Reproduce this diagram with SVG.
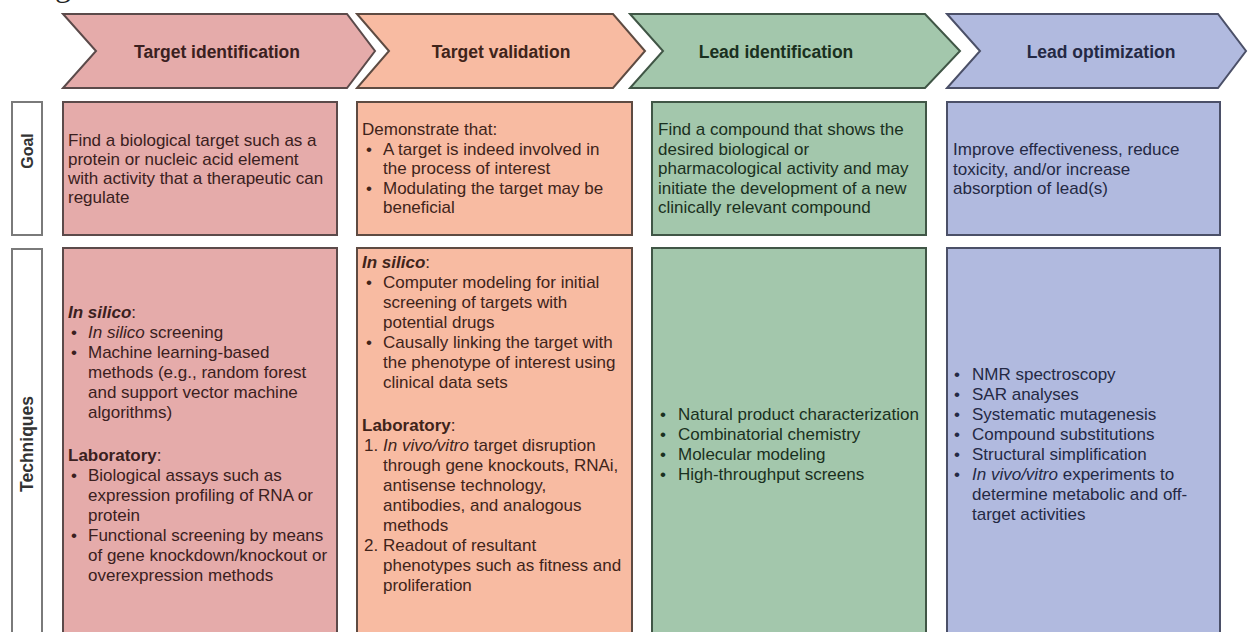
<svg xmlns="http://www.w3.org/2000/svg" width="1248" height="632" viewBox="0 0 1248 632">
<style>
.t{font-family:"Liberation Sans",Arial,sans-serif;font-size:17px}
.h{font-family:"Liberation Sans",Arial,sans-serif;font-size:17.5px;font-weight:bold;text-anchor:middle}
.lbl{font-family:"Liberation Sans",Arial,sans-serif;font-weight:bold;text-anchor:middle;fill:#333}
.bi{font-weight:bold;font-style:italic}
.b{font-weight:bold}
.i{font-style:italic}
.c1{fill:#e5abaa;stroke:#5b4a4a;stroke-width:2}
.c2{fill:#f8bba2;stroke:#5e4b42;stroke-width:2}
.c3{fill:#a3c7ac;stroke:#405646;stroke-width:2}
.c4{fill:#b1badf;stroke:#4b5068;stroke-width:2}
.x1{fill:#3a2020}.x2{fill:#40241a}.x3{fill:#1a3020}.x4{fill:#242944}
.lb{fill:#fff;stroke:#7a7a7a;stroke-width:2}
</style>
<text x="55" y="-4" font-family="'Liberation Serif',serif" font-size="32" fill="#222">g</text>

<g id="hdr1">
<polygon class="c1" points="63,14 347,14 375,51 347,88 63,88 96,51"/>
<text class="h x1" x="217" y="58">Target identification</text>
</g>
<g id="hdr2">
<polygon class="c2" points="357,14 613,14 645,51 613,88 357,88 389,51"/>
<text class="h x2" x="501" y="58">Target validation</text>
</g>
<g id="hdr3">
<polygon class="c3" points="630,14 925,14 960,51 925,88 630,88 663,51"/>
<text class="h x3" x="776" y="58">Lead identification</text>
</g>
<g id="hdr4">
<polygon class="c4" points="947,14 1218,14 1246,51 1218,88 947,88 980,51"/>
<text class="h x4" x="1101" y="58">Lead optimization</text>
</g>

<g id="label-goal">
<rect class="lb" x="12" y="102" width="30" height="133"/>
<text class="lbl" font-size="16" transform="translate(33,151) rotate(-90)">Goal</text>
</g>
<g id="label-techniques">
<rect class="lb" x="12" y="249" width="30" height="400"/>
<text class="lbl" font-size="17.5" transform="translate(33,444) rotate(-90)">Techniques</text>
</g>

<g id="goal1">
<rect class="c1" x="63" y="102" width="274" height="133"/>
<text class="t x1"><tspan x="68" y="146">Find a biological target such as a</tspan><tspan x="68" y="165">protein or nucleic acid element</tspan><tspan x="68" y="184">with activity that a therapeutic can</tspan><tspan x="68" y="203">regulate</tspan></text>
</g>
<g id="goal2">
<rect class="c2" x="357" y="102" width="275" height="133"/>
<text class="t x2"><tspan x="362" y="135">Demonstrate that:</tspan><tspan x="366" y="154.5">•</tspan><tspan x="383" y="154.5">A target is indeed involved in</tspan><tspan x="383" y="174">the process of interest</tspan><tspan x="366" y="193.5">•</tspan><tspan x="383" y="193.5">Modulating the target may be</tspan><tspan x="383" y="213">beneficial</tspan></text>
</g>
<g id="goal3">
<rect class="c3" x="652" y="102" width="274" height="133"/>
<text class="t x3"><tspan x="658" y="135">Find a compound that shows the</tspan><tspan x="658" y="154.5">desired biological or</tspan><tspan x="658" y="174">pharmacological activity and may</tspan><tspan x="658" y="193.5">initiate the development of a new</tspan><tspan x="658" y="213">clinically relevant compound</tspan></text>
</g>
<g id="goal4">
<rect class="c4" x="947" y="102" width="273" height="133"/>
<text class="t x4"><tspan x="953" y="155">Improve effectiveness, reduce</tspan><tspan x="953" y="174.5">toxicity, and/or increase</tspan><tspan x="953" y="194">absorption of lead(s)</tspan></text>
</g>

<g id="tech1">
<rect class="c1" x="63" y="248" width="274" height="400"/>
<text class="t x1">
<tspan x="68" y="318"><tspan class="bi">In silico</tspan>:</tspan>
<tspan x="71" y="338">•</tspan><tspan x="88" y="338"><tspan class="i">In silico</tspan> screening</tspan>
<tspan x="71" y="358">•</tspan><tspan x="88" y="358">Machine learning-based</tspan>
<tspan x="88" y="378">methods (e.g., random forest</tspan>
<tspan x="88" y="398">and support vector machine</tspan>
<tspan x="88" y="418">algorithms)</tspan>
<tspan x="68" y="461"><tspan class="b">Laboratory</tspan>:</tspan>
<tspan x="71" y="481">•</tspan><tspan x="88" y="481">Biological assays such as</tspan>
<tspan x="88" y="501">expression profiling of RNA or</tspan>
<tspan x="88" y="521">protein</tspan>
<tspan x="71" y="541">•</tspan><tspan x="88" y="541">Functional screening by means</tspan>
<tspan x="88" y="561">of gene knockdown/knockout or</tspan>
<tspan x="88" y="581">overexpression methods</tspan>
</text>
</g>
<g id="tech2">
<rect class="c2" x="357" y="248" width="275" height="400"/>
<text class="t x2">
<tspan x="362" y="268"><tspan class="bi">In silico</tspan>:</tspan>
<tspan x="366" y="288">•</tspan><tspan x="383" y="288">Computer modeling for initial</tspan>
<tspan x="383" y="308">screening of targets with</tspan>
<tspan x="383" y="328">potential drugs</tspan>
<tspan x="366" y="348">•</tspan><tspan x="383" y="348">Causally linking the target with</tspan>
<tspan x="383" y="368">the phenotype of interest using</tspan>
<tspan x="383" y="388">clinical data sets</tspan>
<tspan x="362" y="431"><tspan class="b">Laboratory</tspan>:</tspan>
<tspan x="364" y="451">1.</tspan><tspan x="383" y="451"><tspan class="i">In vivo/vitro</tspan> target disruption</tspan>
<tspan x="383" y="471">through gene knockouts, RNAi,</tspan>
<tspan x="383" y="491">antisense technology,</tspan>
<tspan x="383" y="511">antibodies, and analogous</tspan>
<tspan x="383" y="531">methods</tspan>
<tspan x="364" y="551">2.</tspan><tspan x="383" y="551">Readout of resultant</tspan>
<tspan x="383" y="571">phenotypes such as fitness and</tspan>
<tspan x="383" y="591">proliferation</tspan>
</text>
</g>
<g id="tech3">
<rect class="c3" x="652" y="248" width="274" height="400"/>
<text class="t x3">
<tspan x="660" y="420">•</tspan><tspan x="678" y="420">Natural product characterization</tspan>
<tspan x="660" y="440">•</tspan><tspan x="678" y="440">Combinatorial chemistry</tspan>
<tspan x="660" y="460">•</tspan><tspan x="678" y="460">Molecular modeling</tspan>
<tspan x="660" y="480">•</tspan><tspan x="678" y="480">High-throughput screens</tspan>
</text>
</g>
<g id="tech4">
<rect class="c4" x="947" y="248" width="273" height="400"/>
<text class="t x4">
<tspan x="954" y="380">•</tspan><tspan x="972" y="380">NMR spectroscopy</tspan>
<tspan x="954" y="400">•</tspan><tspan x="972" y="400">SAR analyses</tspan>
<tspan x="954" y="420">•</tspan><tspan x="972" y="420">Systematic mutagenesis</tspan>
<tspan x="954" y="440">•</tspan><tspan x="972" y="440">Compound substitutions</tspan>
<tspan x="954" y="460">•</tspan><tspan x="972" y="460">Structural simplification</tspan>
<tspan x="954" y="480">•</tspan><tspan x="972" y="480"><tspan class="i">In vivo/vitro</tspan> experiments to</tspan>
<tspan x="972" y="500">determine metabolic and off-</tspan>
<tspan x="972" y="520">target activities</tspan>
</text>
</g>
</svg>
